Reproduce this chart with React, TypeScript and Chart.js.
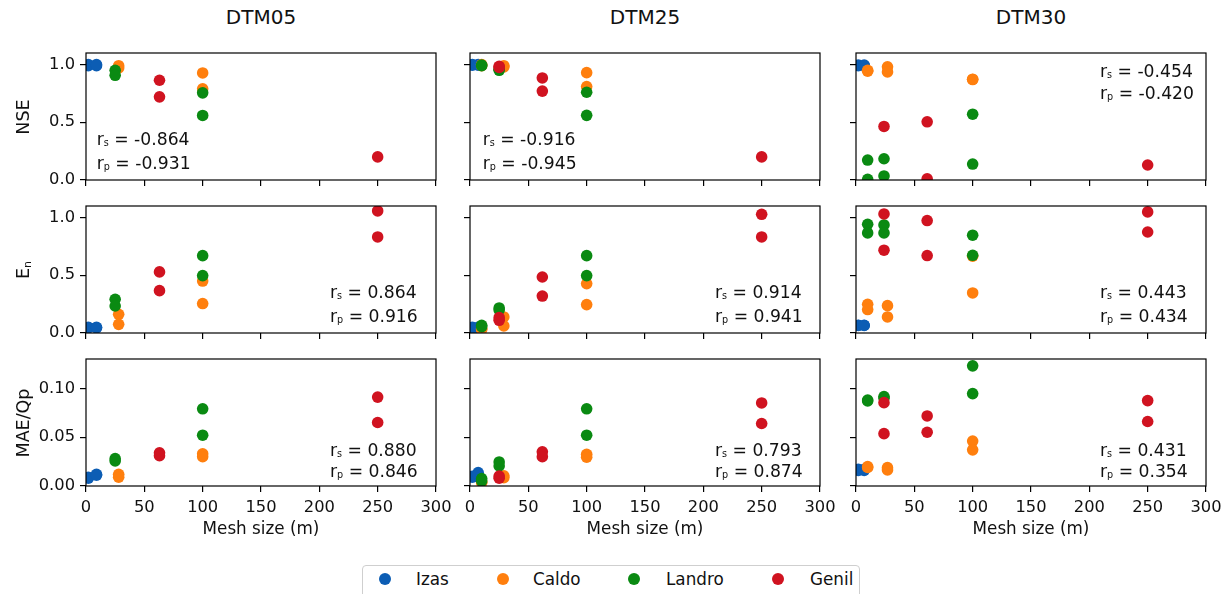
import React, { useEffect, useRef } from 'react';
import { Chart, registerables } from 'chart.js';

Chart.register(...registerables);

const FONT = "'DejaVu Sans', sans-serif";

// ---------- categories / styles ----------
const catchments = ['Izas', 'Caldo', 'Landro', 'Genil'];
const catchmentColors = ['#0c5db4', '#ff7f0e', '#0a8a12', '#d01320'];
const dtmTitles = ['DTM05', 'DTM25', 'DTM30'];
const metricLabels = ['NSE', 'En', 'MAE/Qp'];
const xTickValues = [0, 50, 100, 150, 200, 250, 300];
const effTickValues = [0, 0.5, 1.0];
const maeTickValues = [0, 0.05, 0.1];

// ---------- DTM05 ----------
const izasX05 = [2, 2, 9, 9];
const izasNse05 = [0.99, 1.0, 0.99, 1.0];
const izasEn05 = [0.045, 0.05, 0.045, 0.05];
const izasMae05 = [0.008, 0.009, 0.012, 0.011];
const caldoX05 = [28, 28, 100, 100];
const caldoNse05 = [0.99, 0.97, 0.927, 0.79];
const caldoEn05 = [0.162, 0.075, 0.45, 0.255];
const caldoMae05 = [0.012, 0.009, 0.033, 0.03];
const landroX05 = [25, 25, 100, 100];
const landroNse05 = [0.95, 0.907, 0.755, 0.559];
const landroEn05 = [0.292, 0.234, 0.67, 0.497];
const landroMae05 = [0.028, 0.0256, 0.079, 0.052];
const genilX05 = [63, 63, 250, 250];
const genilNse05 = [0.864, 0.72, 0.2, null];
const genilEn05 = [0.529, 0.367, 1.057, 0.832];
const genilMae05 = [0.034, 0.031, 0.091, 0.065];

// ---------- DTM25 ----------
const izasX25 = [2, 2, 7, 7];
const izasNse25 = [1.0, 0.995, 1.0, 0.995];
const izasEn25 = [0.045, 0.05, 0.045, 0.05];
const izasMae25 = [0.009, 0.01, 0.0137, 0.012];
const caldoX25 = [10, 10, 29, 29, 100, 100];
const caldoNse25 = [1.0, 0.99, 0.99, 0.98, 0.93, 0.81];
const caldoEn25 = [0.038, 0.03, 0.139, 0.061, 0.428, 0.246];
const caldoMae25 = [0.0035, 0.004, 0.0105, 0.0085, 0.0325, 0.0295];
const landroX25 = [10, 10, 25, 25, 100, 100];
const landroNse25 = [0.99, 0.995, 0.95, 0.96, 0.76, 0.56];
const landroEn25 = [0.067, 0.055, 0.217, 0.2, 0.67, 0.497];
const landroMae25 = [0.0076, 0.005, 0.0246, 0.0205, 0.079, 0.052];
const genilX25 = [25, 25, 62, 62, 250, 250];
const genilNse25 = [0.985, 0.975, 0.884, 0.77, 0.2, null];
const genilEn25 = [0.133, 0.11, 0.485, 0.32, 1.028, 0.832];
const genilMae25 = [0.0102, 0.008, 0.035, 0.03, 0.085, 0.064];

// ---------- DTM30 ----------
const izasX30 = [2, 2, 7, 7];
const izasNse30 = [0.995, 0.99, 0.995, 0.99];
const izasEn30 = [0.065, 0.067, 0.065, 0.067];
const izasMae30 = [0.017, 0.016, 0.017, 0.016];
const caldoX30 = [10, 10, 27, 27, 100, 100];
const caldoNse30 = [0.942, 0.95, 0.98, 0.936, 0.873, 0.87];
const caldoEn30 = [0.249, 0.203, 0.237, 0.139, 0.665, 0.347];
const caldoMae30 = [0.0198, 0.019, 0.0188, 0.0164, 0.046, 0.037];
const landroX30 = [10, 10, 24, 24, 100, 100];
const landroNse30 = [0.173, 0.006, 0.184, 0.035, 0.57, 0.138];
const landroEn30 = [0.942, 0.867, 0.936, 0.867, 0.847, 0.673];
const landroMae30 = [0.088, 0.087, 0.0915, 0.09, 0.123, 0.0946];
const genilX30 = [24, 24, 61, 61, 250, 250];
const genilNse30 = [0.464, null, 0.504, 0.01, 0.13, null];
const genilEn30 = [1.031, 0.717, 0.974, 0.671, 1.049, 0.875];
const genilMae30 = [0.0853, 0.0536, 0.0717, 0.055, 0.0874, 0.066];

// ---------- correlation annotations (row-major: metric x DTM) ----------
const rsValues = ['-0.864', '-0.916', '-0.454', '0.864', '0.914', '0.443', '0.880', '0.793', '0.431'];
const rpValues = ['-0.931', '-0.945', '-0.420', '0.916', '0.941', '0.434', '0.846', '0.874', '0.354'];

// ---------- assembled tables ----------
const xByDtm = [
  [izasX05, caldoX05, landroX05, genilX05],
  [izasX25, caldoX25, landroX25, genilX25],
  [izasX30, caldoX30, landroX30, genilX30],
];
const yByMetricDtm = [
  [
    [izasNse05, caldoNse05, landroNse05, genilNse05],
    [izasNse25, caldoNse25, landroNse25, genilNse25],
    [izasNse30, caldoNse30, landroNse30, genilNse30],
  ],
  [
    [izasEn05, caldoEn05, landroEn05, genilEn05],
    [izasEn25, caldoEn25, landroEn25, genilEn25],
    [izasEn30, caldoEn30, landroEn30, genilEn30],
  ],
  [
    [izasMae05, caldoMae05, landroMae05, genilMae05],
    [izasMae25, caldoMae25, landroMae25, genilMae25],
    [izasMae30, caldoMae30, landroMae30, genilMae30],
  ],
];

// ---------- layout ----------
const colLeft = [86, 470, 856];
const rowTop = [53, 206, 359];
const PLOT_W = 350;
const PLOT_H = 127;
const PAD_L = 80;
const PAD_T = 16;
const PAD_R = 26;
const PAD_B = 44;
const TICK_FONT = 16.3;

const boxPlugin = {
  id: 'axesBox',
  afterDraw(chart: any) {
    const { ctx, chartArea: a } = chart;
    ctx.save();
    ctx.strokeStyle = '#000';
    ctx.lineWidth = 1.2;
    ctx.strokeRect(a.left, a.top, a.right - a.left, a.bottom - a.top);
    ctx.restore();
  },
};

function Panel({ row, col }: { row: number; col: number }) {
  const ref = useRef<HTMLCanvasElement | null>(null);
  useEffect(() => {
    const canvas = ref.current;
    if (!canvas) return;
    const xs = xByDtm[col];
    const ys = yByMetricDtm[row][col];
    const datasets = catchments.map((name, i) => ({
      label: name,
      data: xs[i]
        .map((x, k) => ({ x, y: ys[i][k] }))
        .filter((p) => p.y !== null && p.y !== undefined),
      backgroundColor: catchmentColors[i],
      pointBackgroundColor: catchmentColors[i],
      pointBorderWidth: 0,
      pointRadius: 5.8,
      pointHoverRadius: 5.8,
      showLine: false,
      clip: 0,
      order: 4 - i,
    }));
    const isMae = row === 2;
    const yTicks = isMae ? maeTickValues : effTickValues;
    const chart = new Chart(canvas, {
      type: 'scatter',
      data: { datasets } as any,
      plugins: [boxPlugin],
      options: {
        responsive: false,
        animation: false,
        events: [],
        layout: { padding: { left: 0, top: PAD_T, right: PAD_R, bottom: 0 } },
        plugins: { legend: { display: false }, tooltip: { enabled: false } },
        scales: {
          x: {
            type: 'linear',
            min: 0,
            max: 300,
            afterFit: (s: any) => {
              s.height = PAD_B;
            },
            afterBuildTicks: (s: any) => {
              s.ticks = xTickValues.map((v) => ({ value: v }));
            },
            grid: {
              drawOnChartArea: false,
              drawTicks: true,
              tickLength: 6,
              color: '#000',
              lineWidth: 1.2,
            },
            border: { display: false },
            ticks: {
              padding: 6,
              maxRotation: 0,
              autoSkip: false,
              color: '#111',
              font: { family: FONT, size: TICK_FONT },
              callback: (v: any) => (row === 2 ? String(v) : ''),
            },
          },
          y: {
            type: 'linear',
            min: 0,
            max: isMae ? 0.13 : 1.1,
            afterFit: (s: any) => {
              s.width = PAD_L;
            },
            afterBuildTicks: (s: any) => {
              s.ticks = yTicks.map((v) => ({ value: v }));
            },
            grid: {
              drawOnChartArea: false,
              drawTicks: true,
              tickLength: 6,
              color: '#000',
              lineWidth: 1.2,
            },
            border: { display: false },
            ticks: {
              padding: 5,
              autoSkip: false,
              color: '#111',
              font: { family: FONT, size: TICK_FONT },
              callback: (v: any) => (col === 0 ? Number(v).toFixed(isMae ? 2 : 1) : ''),
            },
          },
        },
      } as any,
    });
    return () => chart.destroy();
  }, [row, col]);
  const w = PLOT_W + PAD_L + PAD_R;
  const h = PLOT_H + PAD_T + PAD_B;
  return (
    <canvas
      ref={ref}
      width={w}
      height={h}
      style={{
        position: 'absolute',
        left: colLeft[col] - PAD_L,
        top: rowTop[row] - PAD_T,
        width: w,
        height: h,
      }}
    />
  );
}

const annLeft = [
  [96.7, 482.7, 1100],
  [330, 715, 1100],
  [330, 715, 1100],
];
const annLines = [
  [[139.3, 162.7], [139.3, 162.7], [70.7, 92.7]],
  [[291.7, 315.7], [291.7, 315.7], [291.7, 315.7]],
  [[450, 471], [450, 471], [450, 471]],
];

function Sub({ children }: { children: React.ReactNode }) {
  return (
    <span style={{ fontSize: '0.56em', position: 'relative', top: '0.1em', lineHeight: 0 }}>{children}</span>
  );
}

function Annotation({ row, col }: { row: number; col: number }) {
  const idx = row * 3 + col;
  const lines = [
    { sub: 's', val: rsValues[idx] },
    { sub: 'p', val: rpValues[idx] },
  ];
  return (
    <>
      {lines.map((ln, i) => (
        <div
          key={i}
          style={{
            position: 'absolute',
            left: annLeft[row][col],
            top: annLines[row][col][i] - 12,
            height: 24,
            lineHeight: '24px',
            fontSize: 17.2,
            whiteSpace: 'nowrap',
            color: '#111',
          }}
        >
          r<Sub>{ln.sub}</Sub> = {ln.val}
        </div>
      ))}
    </>
  );
}

function YLabel({ row }: { row: number }) {
  const cy = rowTop[row] + PLOT_H / 2;
  const cx = 23;
  const content =
    row === 1 ? (
      <>
        E<span style={{ fontSize: '0.62em', position: 'relative', top: '0.2em', lineHeight: 0 }}>n</span>
      </>
    ) : (
      metricLabels[row]
    );
  return (
    <div
      style={{
        position: 'absolute',
        left: cx - 100,
        top: cy - 12,
        width: 200,
        height: 24,
        lineHeight: '24px',
        textAlign: 'center',
        fontSize: 17.5,
        color: '#111',
        transform: 'rotate(-90deg)',
        whiteSpace: 'nowrap',
      }}
    >
      {content}
    </div>
  );
}

const legendMarkerX = [385, 503, 634, 778];
const legendTextX = [416, 533, 666, 810];

export default function App() {
  const rows = [0, 1, 2];
  const cols = [0, 1, 2];
  return (
    <div
      style={{
        position: 'absolute',
        left: 0,
        top: 0,
        width: 1227,
        height: 594,
        overflow: 'hidden',
        background: '#fff',
        fontFamily: FONT,
      }}
    >
      {rows.map((r) => cols.map((c) => <Panel key={`p${r}${c}`} row={r} col={c} />))}
      {rows.map((r) => cols.map((c) => <Annotation key={`a${r}${c}`} row={r} col={c} />))}
      {rows.map((r) => (
        <YLabel key={`y${r}`} row={r} />
      ))}
      {dtmTitles.map((t, c) => (
        <div
          key={t}
          style={{
            position: 'absolute',
            left: colLeft[c] + PLOT_W / 2 - 100,
            top: 4,
            width: 200,
            height: 26,
            lineHeight: '26px',
            textAlign: 'center',
            fontSize: 20,
            color: '#111',
          }}
        >
          {t}
        </div>
      ))}
      {cols.map((c) => (
        <div
          key={`xl${c}`}
          style={{
            position: 'absolute',
            left: colLeft[c] + PLOT_W / 2 - 100,
            top: 528 - 12,
            width: 200,
            height: 24,
            lineHeight: '24px',
            textAlign: 'center',
            fontSize: 16.8,
            color: '#111',
          }}
        >
          Mesh size (m)
        </div>
      ))}
      <div
        style={{
          position: 'absolute',
          left: 362,
          top: 565,
          width: 498,
          height: 44,
          border: '1px solid #cfcfcf',
          borderRadius: 4,
          boxSizing: 'border-box',
        }}
      />
      {catchments.map((name, i) => (
        <React.Fragment key={name}>
          <div
            style={{
              position: 'absolute',
              left: legendMarkerX[i] - 6,
              top: 579 - 6,
              width: 12,
              height: 12,
              borderRadius: '50%',
              background: catchmentColors[i],
            }}
          />
          <div
            style={{
              position: 'absolute',
              left: legendTextX[i],
              top: 579 - 12,
              height: 24,
              lineHeight: '24px',
              fontSize: 16.8,
              color: '#111',
              whiteSpace: 'nowrap',
            }}
          >
            {name}
          </div>
        </React.Fragment>
      ))}
    </div>
  );
}
